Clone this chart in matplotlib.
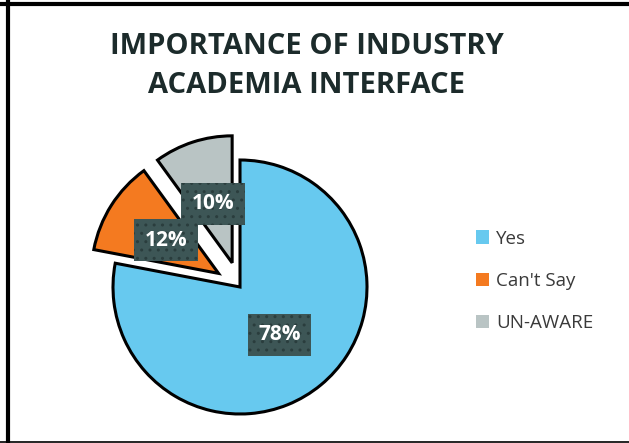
import matplotlib
matplotlib.use("Agg")
import matplotlib.pyplot as plt
from matplotlib.patches import Patch
from matplotlib.lines import Line2D

categories = ["Yes", "Can't Say", "UN-AWARE"]
values = [78, 12, 10]
colors = ["#67c9ef", "#f47a20", "#b9c4c4"]
explode = [0.0, 0.2, 0.2]
title = "IMPORTANCE OF INDUSTRY\nACADEMIA INTERFACE"

plt.rcParams['font.family'] = ['Open Sans', 'DejaVu Sans']

W, H = 629, 443
fig = plt.figure(figsize=(W / 100, H / 100), dpi=100)

# pie axes: center (240,287) px, radius 127 px
cx, cy, r, s = 240, 287, 127, 165
ax = fig.add_axes([(cx - s) / W, (H - cy - s) / H, 2 * s / W, 2 * s / H])

wedges, texts, autotexts = ax.pie(
    values, colors=colors, explode=explode, startangle=90, counterclock=False,
    autopct=lambda p: f"{p:.0f}%", pctdistance=0.49,
    wedgeprops=dict(edgecolor='black', linewidth=2.2),
    textprops=dict(color='white', fontsize=15, fontweight='bold'),
    frame=False)
L = s / r
ax.set_xlim(-L, L)
ax.set_ylim(-L, L)
ax.set_aspect('equal')
ax.axis('off')
for w in wedges:
    w.set_clip_on(False)
for t in autotexts:
    t.set_bbox(dict(boxstyle='square,pad=0.5', facecolor='#3d5656',
                    edgecolor='#2a3d3d', linewidth=0, hatch='..'))

fig.text(307 / W, 1 - 66 / H, title, ha='center', va='center',
         fontsize=21, fontweight='bold', color='#1c2b2b', linespacing=1.45)

handles = [Patch(facecolor=c, edgecolor='none', label=l) for c, l in zip(colors, categories)]
leg = fig.legend(handles=handles, loc='upper left', bbox_to_anchor=(468 / W, 1 - 222 / H),
                 frameon=False, fontsize=13.5, handlelength=0.7, handleheight=0.7,
                 handletextpad=0.4, labelspacing=1.3, borderaxespad=0)
for t in leg.get_texts():
    t.set_color('#3a3a3a')

# frame lines (left thick, top thick, bottom thin)
fig.add_artist(Line2D([8 / W, 8 / W], [0, 1], transform=fig.transFigure, color='black', linewidth=3))
fig.add_artist(Line2D([0, 1], [1 - 4 / H, 1 - 4 / H], transform=fig.transFigure, color='black', linewidth=3))
fig.add_artist(Line2D([0, 1], [1.5 / H, 1.5 / H], transform=fig.transFigure, color='black', linewidth=1.2))

fig.savefig("out.png", dpi=100)
